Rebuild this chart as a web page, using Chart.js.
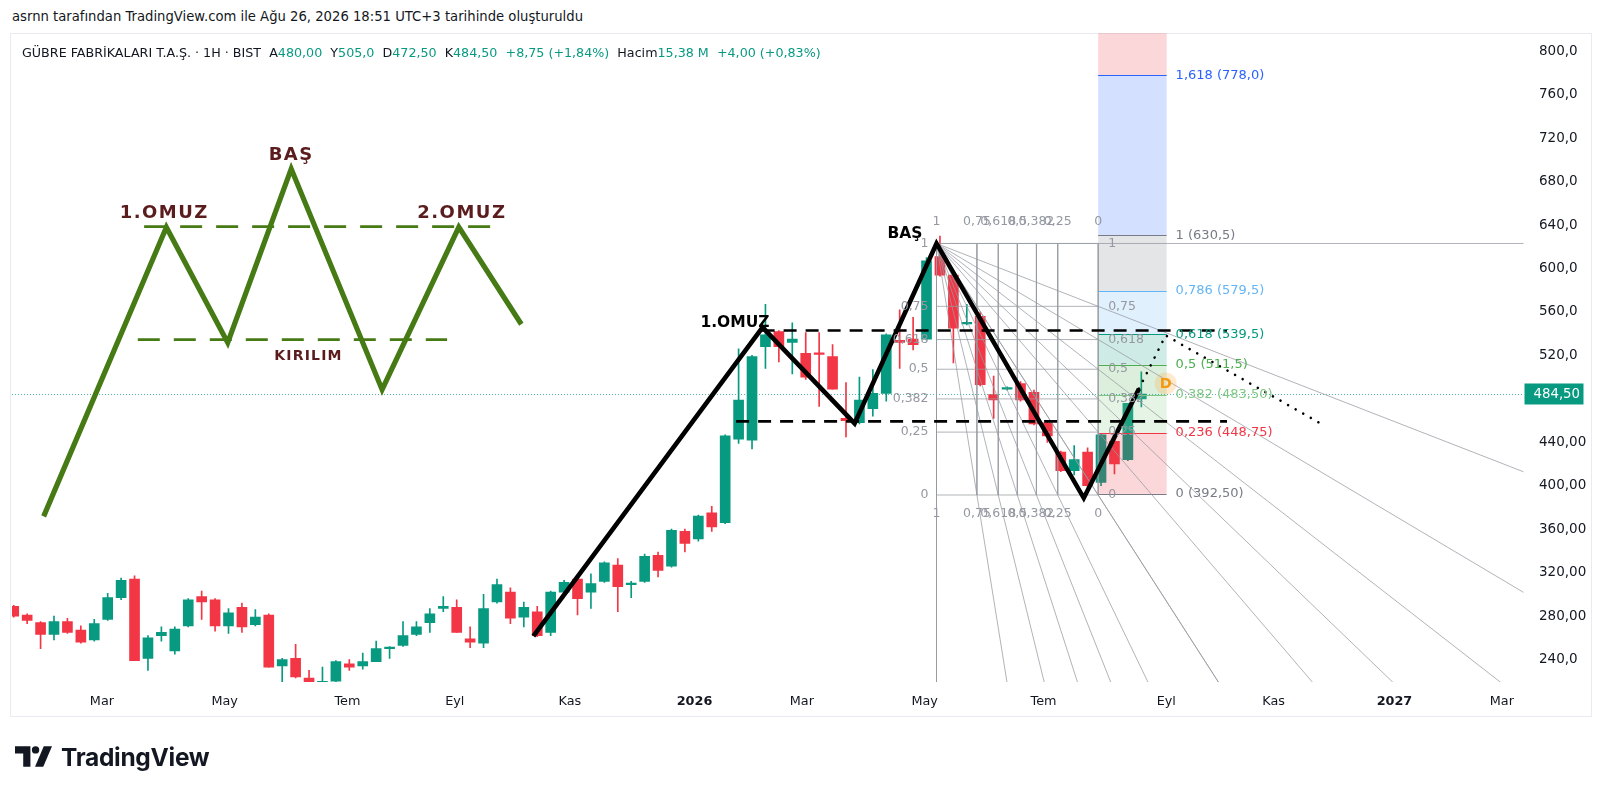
<!DOCTYPE html>
<html>
<head>
<meta charset="utf-8">
<script src="https://cdn.jsdelivr.net/npm/chart.js@4.4.1/dist/chart.umd.min.js"></script>
<style>
html,body{margin:0;padding:0;background:#fff;width:1600px;height:789px;overflow:hidden;}
#hdr{position:absolute;left:12px;top:9px;font:13.2px 'DejaVu Sans',sans-serif;color:#131722;white-space:nowrap;}
#panel{position:absolute;left:10px;top:33px;width:1582px;height:684px;border:1px solid #e9ebf0;box-sizing:border-box;}
#c{position:absolute;left:0;top:0;}
#legend{position:absolute;left:22px;top:45px;font:12.7px 'DejaVu Sans',sans-serif;color:#131722;white-space:nowrap;z-index:2;}
#legend .v{color:#089981;}
#logo{position:absolute;left:15px;top:743px;height:27px;display:flex;align-items:center;}
#logo span{font:bold 24.5px 'Inter','DejaVu Sans',sans-serif;color:#131722;margin-left:9px;letter-spacing:-0.3px;}
</style>
</head>
<body>
<div id="hdr">asrnn tarafından TradingView.com ile Ağu 26, 2026 18:51 UTC+3 tarihinde oluşturuldu</div>
<div id="panel"></div>
<canvas id="c" width="1600" height="789"></canvas>
<div id="legend">GÜBRE FABRİKALARI T.A.Ş. · 1H · BIST &nbsp;A<span class="v">480,00</span> &nbsp;Y<span class="v">505,0</span> &nbsp;D<span class="v">472,50</span> &nbsp;K<span class="v">484,50</span> &nbsp;<span class="v">+8,75 (+1,84%)</span> &nbsp;Hacim<span class="v">15,38 M</span> &nbsp;<span class="v">+4,00 (+0,83%)</span></div>
<div id="logo">
<svg width="37" height="21" viewBox="0 0 36 20"><path d="M0 0h15v20h-7V7H0z" fill="#131722"/><circle cx="20" cy="3.6" r="3.6" fill="#131722"/><path d="M28 0h8l-8.5 20h-8z" fill="#131722"/></svg>
<span>TradingView</span>
</div>
<script>
// ---------- DATA (x = days from 1 Mar 2025, y = price) ----------
const firstCandleDay = -46;
const opens  = [289,281,274,263,275,267,258,277,297,314,241,262,248,271,298,295,271,288,272,281,234,241,223,217,220,236,234,238,250,253,263,274,287,288,259,255,293,302,279,284,265,302,314,302,312,327,309,312,336,326,358,351,375,366,443,442,528,542,532,522,522,519,462,458,471,485,534,535,535,611,594,549,556,484,489,494,486,458,431,414,431,403,441,424,480];
const highs  = [290,282,275,280,278,271,277,301,315,317,262,270,270,296,303,296,287,292,286,282,241,254,230,233,239,240,246,257,252,275,275,287,298,295,270,300,314,306,293,289,303,313,315,319,330,333,312,337,339,360,360,373,381,447,526,520,567,543,550,541,541,530,495,500,507,540,562,555,610,630,596,567,560,501,491,496,488,460,432,437,435,448,450,476,505];
const lows   = [279,273,250,258,264,255,257,276,295,239,230,257,245,270,277,266,264,265,271,233,216,223,216,216,219,230,231,238,241,252,262,265,284,265,251,251,292,273,270,261,262,301,281,287,311,284,297,311,316,325,339,349,358,365,439,434,508,514,503,498,473,489,445,457,464,478,508,525,534,593,513,548,492,462,488,478,456,440,413,410,397,400,411,423,472.5];
const closes = [280,276,263,275,265,256,273,297,313,239,260,265,268,295,293,271,283,270,279,233,240,224,217,220,238,233,238,250,251,262,270,282,289,265,256,287,309,278,288,262,302,311,296,310,329,307,310,335,322,359,347,372,362,446,479,519,539,528,535,500,521,489,460,479,485,539,532,530,607,594,545,550,493,479,490,479,457,446,414,424,400,447,420,476,484.5];
const candleDays = opens.map((_, i) => firstCandleDay + 7 * i);
const lastPrice = 484.5;
const lastPriceLabel = '484,50';

const xRange = [-46.9, 741.3];
const yRange = [219.3, 816.9];
const xTickDays   = [0, 64, 128, 184, 244, 309, 365, 429, 491, 555, 611, 674, 730];
const xTickLabels = ['Mar','May','Tem','Eyl','Kas','2026','Mar','May','Tem','Eyl','Kas','2027','Mar'];
const yTickValues = [800,760,720,680,640,600,560,520,440,400,360,320,280,240];
const yTickLabels = ['800,0','760,0','720,0','680,0','640,0','600,0','560,0','520,0','440,00','400,00','360,00','320,00','280,00','240,0'];

// Head & shoulders drawing on the chart
const zigzagDays   = [225, 344.5, 392.5, 435.2, 512, 540.8];
const zigzagPrices = [261.6, 545.9, 457.4, 623.1, 388.7, 489.4];
const projectionDays   = [540.8, 554.7, 637.3];
const projectionPrices = [489.4, 538.4, 455.5];
const necklinePrices    = [543, 459.3];
const necklineStartDays = [344, 330.7];
const necklineEndDays   = [586.7, 586.7];

// Fib speed resistance fan
const fanStart = [435.2, 623.1];
const fanEnd   = [519.5, 391.5];
const fanLevels = [1, 0.75, 0.618, 0.5, 0.382, 0.25, 0];
const fanLabels = ['1','0,75','0,618','0,5','0,382','0,25','0'];

// Fib retracement
const fibStartDay = 519.5, fibEndDay = 555.2;
const fibPrices = [392.5, 448.75, 483.5, 511.5, 539.5, 579.5, 630.5, 778.0, 1015.6];
const fibLabels = ['0 (392,50)','0,236 (448,75)','0,382 (483,50)','0,5 (511,5)','0,618 (539,5)','0,786 (579,5)','1 (630,5)','1,618 (778,0)',''];

// Illustration (schematic head & shoulders)
const illusDays   = [-30.4, 33.6, 65.6, 98.7, 146.1, 186.1, 218.7];
const illusPrices = [371.8, 638.1, 531.8, 691.8, 488.5, 638.1, 548.7];
const illusShoulderDays = [22, 206], illusShoulderPrice = 638.6;
const illusBreakDays    = [18.7, 180], illusBreakPrice = 534.6;

// Text annotations [day, price, text]
const chartNotes = [[418.7, 631.5, 'BAŞ'], [330.1, 549.6, '1.OMUZ']];
const illusNotes = [[98.7, 704, 'BAŞ'], [32.5, 651.3, '1.OMUZ'], [187.7, 651.3, '2.OMUZ'], [107.7, 519.5, 'KIRILIM']];
const dPoint = [554.7, 494.1, 'D'];

// ---------- STYLES ----------
const UP = '#089981', DOWN = '#f23645';
const fibLineColors = ['#787b86','#f23645','#81c784','#4caf50','#089981','#64b5f6','#787b86','#2962ff','#f23645'];
const fibFillColors = ['','rgba(242,54,69,0.2)','rgba(129,199,132,0.2)','rgba(76,175,80,0.2)','rgba(8,153,129,0.2)','rgba(100,181,246,0.2)','rgba(120,123,134,0.2)','rgba(41,98,255,0.2)','rgba(242,54,69,0.2)'];
const FAN_COLOR = 'rgba(150,153,160,0.75)';
const ILLUS_GREEN = '#467a14';
const ILLUS_TEXT = '#5b1c1e';
const AXIS_FONT = "'DejaVu Sans', sans-serif";

const isUp = closes.map((c, i) => c >= opens[i]);

function lineDs(xs, ys, style) {
  return Object.assign({
    type: 'line',
    data: xs.map((x, i) => ({x: x, y: ys[i]})),
    pointRadius: 0, pointHoverRadius: 0, fill: false, tension: 0,
    borderCapStyle: 'butt', borderJoinStyle: 'miter', order: 10
  }, style);
}

const datasets = [];
datasets.push({
  type: 'bar', label: 'wick',
  data: candleDays.map((d, i) => ({x: d, y: [lows[i], highs[i]]})),
  backgroundColor: isUp.map(u => u ? UP : DOWN),
  barThickness: 1, grouped: false, order: 100
});
datasets.push({
  type: 'bar', label: 'body',
  data: candleDays.map((d, i) => ({x: d, y: [opens[i], closes[i]]})),
  backgroundColor: isUp.map(u => u ? UP : DOWN),
  barThickness: 10, grouped: false, minBarLength: 1.5, order: 99
});

// fan grid
const fanP = l => fanEnd[1] + l * (fanStart[1] - fanEnd[1]);
const fanT = l => fanEnd[0] - l * (fanEnd[0] - fanStart[0]);
const EXT = 40;
fanLevels.forEach(l => {
  datasets.push(lineDs([fanStart[0], fanEnd[0]], [fanP(l), fanP(l)], {borderColor: FAN_COLOR, borderWidth: 1, order: 50}));
  datasets.push(lineDs([fanT(l), fanT(l)], [fanStart[1], fanEnd[1]], {borderColor: FAN_COLOR, borderWidth: 1, order: 50}));
  const a = [fanEnd[0], fanP(l)], b = [fanT(l), fanEnd[1]];
  [a, b].forEach(p => {
    datasets.push(lineDs([fanStart[0], fanStart[0] + EXT * (p[0] - fanStart[0])],
                         [fanStart[1], fanStart[1] + EXT * (p[1] - fanStart[1])],
                         {borderColor: FAN_COLOR, borderWidth: 1, order: 50}));
  });
});

necklinePrices.forEach((p, i) => {
  datasets.push(lineDs([necklineStartDays[i], necklineEndDays[i]], [p, p],
    {borderColor: '#000', borderWidth: 2.6, borderDash: [13, 9], order: 5}));
});
datasets.push(lineDs(zigzagDays, zigzagPrices, {borderColor: '#000', borderWidth: 4.6, order: 4}));
datasets.push(lineDs(projectionDays, projectionPrices, {borderColor: '#000', borderWidth: 2.6, borderDash: [0.01, 8.7], borderCapStyle: 'round', order: 4}));
datasets.push(lineDs(illusShoulderDays, [illusShoulderPrice, illusShoulderPrice], {borderColor: ILLUS_GREEN, borderWidth: 2.6, borderDash: [22, 14], order: 3}));
datasets.push(lineDs(illusBreakDays, [illusBreakPrice, illusBreakPrice], {borderColor: ILLUS_GREEN, borderWidth: 2.6, borderDash: [22, 14], order: 3}));
datasets.push(lineDs(illusDays, illusPrices, {borderColor: ILLUS_GREEN, borderWidth: 5.2, order: 2}));

// ---------- PLUGINS ----------
const overlayPlugin = {
  id: 'overlay',
  afterDatasetDraw(chart, args) {
    if (args.index !== 1) return; // after candle bodies
    const {ctx, chartArea: ca, scales: {x, y}} = chart;
    ctx.save();
    ctx.beginPath(); ctx.rect(ca.left, ca.top, ca.right - ca.left, ca.bottom - ca.top); ctx.clip();
    const x1 = x.getPixelForValue(fibStartDay), x2 = x.getPixelForValue(fibEndDay);
    for (let i = 1; i < fibPrices.length; i++) {
      const ya = y.getPixelForValue(fibPrices[i - 1]), yb = y.getPixelForValue(fibPrices[i]);
      ctx.fillStyle = fibFillColors[i];
      ctx.fillRect(x1, yb, x2 - x1, ya - yb);
    }
    fibPrices.forEach((p, i) => {
      const yy = Math.round(y.getPixelForValue(p)) + 0.5;
      ctx.strokeStyle = fibLineColors[i]; ctx.lineWidth = 1;
      ctx.beginPath(); ctx.moveTo(x1, yy); ctx.lineTo(x2, yy); ctx.stroke();
    });
    const py = Math.round(y.getPixelForValue(lastPrice)) + 0.5;
    ctx.strokeStyle = 'rgba(8,153,129,0.7)'; ctx.lineWidth = 1; ctx.setLineDash([1, 2]);
    ctx.beginPath(); ctx.moveTo(ca.left, py); ctx.lineTo(ca.right, py); ctx.stroke();
    ctx.restore();
  },
  afterDatasetsDraw(chart) {
    const {ctx, chartArea: ca, scales: {x, y}} = chart;
    ctx.save();
    ctx.beginPath(); ctx.rect(ca.left, ca.top, ca.right - ca.left, ca.bottom - ca.top); ctx.clip();
    ctx.font = "13px " + AXIS_FONT; ctx.textAlign = 'left'; ctx.textBaseline = 'middle';
    const xr = x.getPixelForValue(fibEndDay) + 9;
    fibPrices.forEach((p, i) => {
      if (!fibLabels[i]) return;
      ctx.fillStyle = fibLineColors[i];
      ctx.fillText(fibLabels[i], xr, y.getPixelForValue(p));
    });
    ctx.font = "12.5px " + AXIS_FONT; ctx.fillStyle = '#9598a1';
    const xs = x.getPixelForValue(fanStart[0]), xe = x.getPixelForValue(fanEnd[0]);
    const ys = y.getPixelForValue(fanStart[1]), ye = y.getPixelForValue(fanEnd[1]);
    fanLevels.forEach((l, i) => {
      const yl = y.getPixelForValue(fanP(l)), xl = x.getPixelForValue(fanT(l));
      ctx.textAlign = 'right'; ctx.fillText(fanLabels[i], xs - 8, yl);
      ctx.textAlign = 'left'; ctx.fillText(fanLabels[i], xe + 10, yl);
      ctx.textAlign = 'center';
      ctx.fillText(fanLabels[i], xl, ys - 21.5);
      ctx.fillText(fanLabels[i], xl, ye + 18.5);
    });
    ctx.fillStyle = '#000'; ctx.font = "bold 15.5px " + AXIS_FONT; ctx.textAlign = 'center';
    chartNotes.forEach(n => ctx.fillText(n[2], x.getPixelForValue(n[0]), y.getPixelForValue(n[1])));
    const dx = x.getPixelForValue(dPoint[0]), dy = y.getPixelForValue(dPoint[1]);
    ctx.fillStyle = 'rgba(255,160,40,0.22)';
    ctx.beginPath(); ctx.arc(dx, dy, 11, 0, Math.PI * 2); ctx.fill();
    ctx.fillStyle = '#f39a12'; ctx.font = "bold 14.5px " + AXIS_FONT;
    ctx.fillText(dPoint[2], dx, dy + 1);
    ctx.fillStyle = ILLUS_TEXT;
    illusNotes.forEach(n => {
      const small = n[2] === 'KIRILIM';
      ctx.font = (small ? "bold 14px " : "bold 18px ") + AXIS_FONT;
      ctx.letterSpacing = small ? '1.2px' : '1.5px';
      ctx.fillText(n[2], x.getPixelForValue(n[0]), y.getPixelForValue(n[1]));
    });
    ctx.letterSpacing = '0px';
    ctx.restore();
  },
  afterDraw(chart) {
    const {ctx, chartArea: ca, scales: {y}} = chart;
    const py = y.getPixelForValue(lastPrice);
    ctx.save();
    ctx.fillStyle = '#089981';
    ctx.fillRect(ca.right + 1, py - 10.5, 59, 21);
    ctx.fillStyle = '#fff'; ctx.font = "13.3px " + AXIS_FONT;
    ctx.textAlign = 'left'; ctx.textBaseline = 'middle';
    ctx.fillText(lastPriceLabel, ca.right + 10, py + 0.5);
    ctx.restore();
  }
};

new Chart(document.getElementById('c'), {
  type: 'bar',
  data: {datasets},
  plugins: [overlayPlugin],
  options: {
    responsive: false, animation: false, devicePixelRatio: 1,
    layout: {padding: {left: 12, top: 33, right: 0, bottom: 73}},
    plugins: {legend: {display: false}, tooltip: {enabled: false}},
    events: [],
    scales: {
      x: {
        type: 'linear', min: xRange[0], max: xRange[1], offset: false,
        grid: {display: false, drawTicks: false}, border: {display: false},
        afterFit: s => { s.height = 34; },
        afterBuildTicks: s => { s.ticks = xTickDays.map(v => ({value: v})); },
        ticks: {
          autoSkip: false, maxRotation: 0, padding: 12, color: '#131722',
          callback: (v, i) => xTickLabels[i],
          font: ctx => ({family: AXIS_FONT, size: 12.8, weight: (xTickLabels[ctx.index] === '2026' || xTickLabels[ctx.index] === '2027') ? 'bold' : 'normal'})
        }
      },
      y: {
        type: 'linear', position: 'right', min: yRange[0], max: yRange[1],
        grid: {display: false, drawTicks: false}, border: {display: false},
        afterFit: s => { s.width = 76.5; },
        afterBuildTicks: s => { s.ticks = yTickValues.map(v => ({value: v})); },
        ticks: {
          autoSkip: false, padding: 15.5, color: '#131722',
          callback: (v, i) => yTickLabels[i],
          font: {family: AXIS_FONT, size: 13.5}
        }
      }
    }
  }
});
</script>
</body>
</html>
